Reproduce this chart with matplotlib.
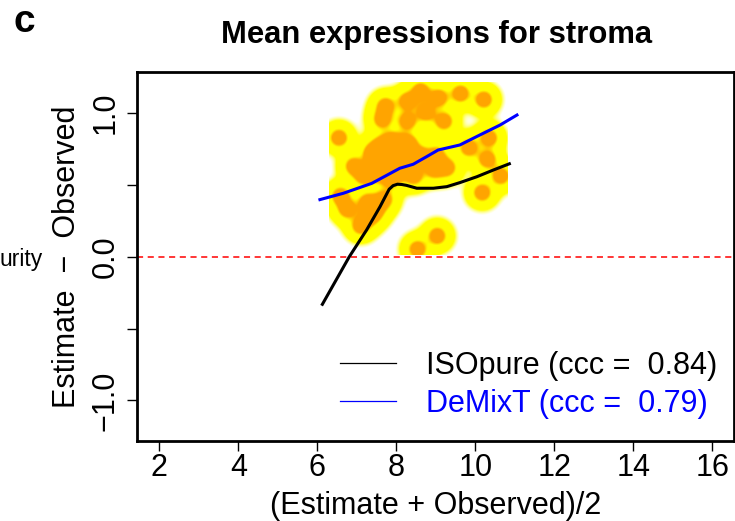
import numpy as np
import matplotlib
matplotlib.use("Agg")
import matplotlib.pyplot as plt
from matplotlib.lines import Line2D

plt.rcParams['font.family'] = ['Liberation Sans', 'DejaVu Sans']

# ---- data ----
# centres of the density blobs (mean, difference)
pts_x = [8.60, 9.06, 9.61, 10.20, 7.71, 7.63, 8.73, 8.26, 9.19, 6.53,
         7.84, 7.59, 8.09, 10.33, 9.82, 7.38, 6.91, 7.46, 8.09, 8.60,
         8.94, 9.27, 10.29, 10.16, 6.74, 7.33, 7.25, 7.67, 9.02, 8.52,
         6.57, 8.43, 7.84, 8.35, 7.16, 8.26, 10.63, 7.08,
         8.00, 8.30, 7.95, 9.00, 7.50, 7.45]
pts_y = [1.149, 1.103, 1.133, 1.091, 1.045, 0.952, 1.003, 0.940, 0.940, 0.824,
         0.801, 0.766, 0.778, 0.824, 0.755, 0.720, 0.627, 0.662, 0.604, 0.697,
         0.604, 0.616, 0.674, 0.442, 0.326, 0.279, 0.372, 0.395, 0.140, 0.047,
         0.418, 0.558, 0.535, 0.674, 0.558, 1.080, 0.558, 0.210,
         0.700, 0.780, 0.620, 0.700, 0.580, 0.330]

# smoothed curves
iso_x = [6.11, 6.81, 7.25, 7.59, 7.82, 7.92, 8.03, 8.14, 8.26, 8.52, 8.94, 9.28, 9.61, 10.04, 10.46, 10.90]
iso_y = [-0.340, 0.000, 0.187, 0.349, 0.470, 0.495, 0.505, 0.503, 0.497, 0.477, 0.477, 0.488, 0.516, 0.557, 0.604, 0.651]
dmx_x = [6.03, 6.66, 7.38, 8.09, 8.43, 8.77, 9.06, 9.61, 10.12, 10.63, 11.09]
dmx_y = [0.395, 0.442, 0.511, 0.616, 0.644, 0.697, 0.743, 0.778, 0.848, 0.917, 0.992]

legend_labels = ["ISOpure (ccc =  0.84)", "DeMixT (ccc =  0.79)"]
xticks = [2, 4, 6, 8, 10, 12, 14, 16]
yticks = [-1.0, -0.5, 0.0, 0.5, 1.0]
ytick_labels = ["\u22121.0", "", "0.0", "", "1.0"]

# ---- figure ----
fig = plt.figure(figsize=(7.35, 5.21), dpi=100)
ax = fig.add_axes([137/735, 1-441/521, (733.5-137)/735, (441-71.7)/521])
ax.set_xlim(1.435, 16.54)
ax.set_ylim(-1.282, 1.288)

# density image (smoothScatter style): wide kernel -> yellow halo, narrow -> orange core
ext = [6.29, 10.8, 0.01, 1.21]
gx = np.linspace(ext[0], ext[1], 180)
gy = np.linspace(ext[2], ext[3], 172)
GX, GY = np.meshgrid(gx, gy)
sx, sy = 1 / 39.5, 1 / 143.7   # data units per pixel
def dens(sig):
    D = np.zeros_like(GX)
    for px, py in zip(pts_x, pts_y):
        D += np.exp(-0.5 * (((GX - px) / (sig * sx)) ** 2 + ((GY - py) / (sig * sy)) ** 2))
    return D
D_wide = dens(8.5)
D_core = dens(6.5)
a_y = np.clip((D_wide - 0.03) / 0.09, 0, 1)
f_o = np.clip((D_core - 0.36) / 0.24, 0, 1)
yellow = np.array([1.0, 1.0, 0.0])
orange = np.array([1.0, 0.647, 0.0])
white = np.array([1.0, 1.0, 1.0])
col = yellow[None, None, :] * (1 - f_o[..., None]) + orange[None, None, :] * f_o[..., None]
rgb = white[None, None, :] * (1 - a_y[..., None]) + col * a_y[..., None]
ax.imshow(rgb, extent=ext, origin="lower", aspect="auto",
          interpolation="bilinear", zorder=1)

ax.axhline(0, color="#FF0000", lw=1.1, ls=(0, (4, 3)), zorder=2)
ax.plot(iso_x, iso_y, color="black", lw=2.2, zorder=3, solid_capstyle="butt")
ax.plot(dmx_x, dmx_y, color="blue", lw=2.2, zorder=3, solid_capstyle="butt")

for s in ax.spines.values():
    s.set_linewidth(2)
ax.set_xticks(xticks)
ax.set_xticklabels([str(t) for t in xticks])
ax.set_yticks(yticks)
ax.set_yticklabels(ytick_labels)
ax.tick_params(axis="both", length=7, width=1, labelsize=22, direction="out")
ax.tick_params(axis="x", pad=2)
ax.tick_params(axis="y", pad=5)
for lab in ax.get_yticklabels():
    lab.set_rotation(90)
    lab.set_va("center")

handles = [Line2D([], [], color="black", lw=0.9), Line2D([], [], color="blue", lw=0.9)]
ax.legend(handles, legend_labels, labelcolor=["black", "blue"], frameon=False,
          fontsize=22, handlelength=1.84, handletextpad=0.98, labelspacing=0.25,
          loc="upper left", bbox_to_anchor=(340/735, 1-351/521),
          bbox_transform=fig.transFigure, borderpad=0, borderaxespad=0)

fig.text(437/735, 1-43.5/521, "Mean expressions for stroma", fontsize=22.3,
         fontweight="bold", ha="center", va="baseline")
fig.text(436/735, 1-514/521, "(Estimate + Observed)/2", fontsize=22,
         ha="center", va="baseline")
fig.text(67/735, 1-257/521, "Estimate  \u2212  Observed", fontsize=22,
         rotation=90, ha="center", va="center")
fig.text(13/735, 1-31.7/521, "c", fontsize=28, fontweight="bold", ha="left", va="baseline")
fig.text(43/735, 1-266/521, "urity", fontsize=16.5, ha="right", va="baseline")

fig.savefig("out.png", dpi=100)
